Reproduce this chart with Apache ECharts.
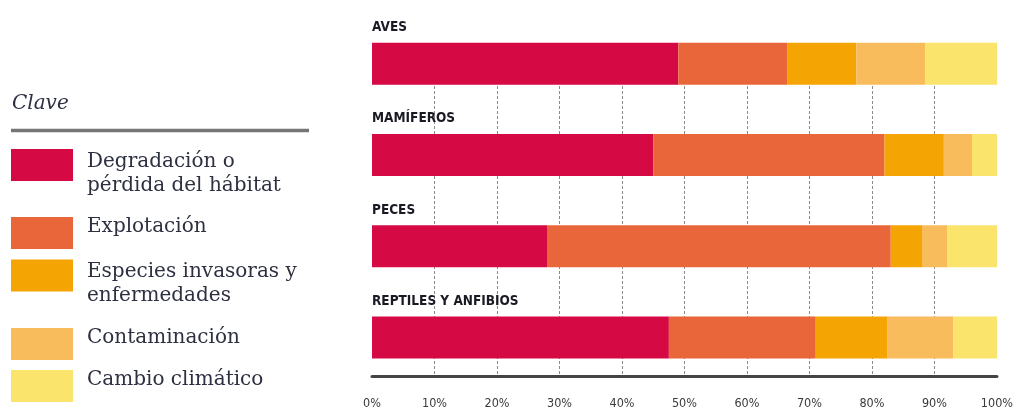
<!DOCTYPE html>
<html>
<head>
<meta charset="utf-8">
<script src="https://cdn.jsdelivr.net/npm/echarts@6/dist/echarts.min.js"></script>
<style>
  html, body { margin: 0; padding: 0; background: #fff; }
  #chart { width: 1016px; height: 410px; }
</style>
</head>
<body>
<div id="chart"></div>
<script>
// datos
const grupos = ['AVES', 'MAMÍFEROS', 'PECES', 'REPTILES Y ANFIBIOS'];
const amenazas = ['Degradación o pérdida del hábitat', 'Explotación', 'Especies invasoras y enfermedades', 'Contaminación', 'Cambio climático'];
const etiquetasClave = [['Degradación o', 'pérdida del hábitat'], ['Explotación'], ['Especies invasoras y', 'enfermedades'], ['Contaminación'], ['Cambio climático']];
const habitat = [49, 45, 28, 47.5];
const explotacion = [17.5, 37, 55, 23.5];
const invasoras = [11, 9.5, 5, 11.5];
const contaminacion = [11, 4.5, 4, 10.5];
const clima = [11.5, 4, 8, 7];

const valores = [habitat, explotacion, invasoras, contaminacion, clima];
const colores = ['#d50a45', '#e9663a', '#f5a503', '#f8bc5c', '#fae46b'];

const fuenteCond = "'DejaVu Sans Condensed', 'Liberation Sans Narrow', sans-serif";
const fuenteSerif = "'DejaVu Serif', 'Liberation Serif', serif";

// leyenda: una por amenaza para poder colocar cada bloque;
// una línea vacía arriba o abajo desplaza el texto respecto al cuadro
function textoClave(name) {
  const lineas = etiquetasClave[amenazas.indexOf(name)].map(l => '{t|' + l + '}');
  return lineas.length > 1 ? '{arr| }\n' + lineas.join('\n') : lineas[0] + '\n{aba| }';
}
const topsClave = [140, 217, 250.5, 328, 370];
const leyendas = amenazas.map((n, i) => ({
  data: [n],
  left: 11,
  top: topsClave[i],
  padding: 0,
  orient: 'vertical',
  icon: 'rect',
  itemWidth: 62,
  itemHeight: 32,
  selectedMode: false,
  formatter: textoClave,
  textStyle: {
    rich: {
      t: { fontFamily: fuenteSerif, fontSize: 20, lineHeight: 24, color: '#2d3040', padding: [0, 0, 0, 9] },
      arr: { fontSize: 2, lineHeight: 17 },
      aba: { fontSize: 2, lineHeight: 12 }
    }
  }
}));

const chart = echarts.init(document.getElementById('chart'));
chart.setOption({
  animation: false,
  backgroundColor: '#fff',
  title: {
    text: 'Clave',
    left: 12,
    top: 92,
    padding: 0,
    textStyle: {
      fontFamily: fuenteSerif,
      fontStyle: 'italic',
      fontWeight: 'normal',
      fontSize: 20,
      lineHeight: 24,
      color: '#2d3040'
    }
  },
  graphic: [{
    type: 'line',
    shape: { x1: 11, y1: 130.5, x2: 309, y2: 130.5 },
    style: { stroke: '#767676', lineWidth: 3.5 }
  }],
  legend: leyendas,
  grid: [
    { left: 372, width: 625, top: 18, height: 365 },
    { left: 372, width: 625, top: 86, height: 293 }
  ],
  xAxis: [
    { gridIndex: 0, type: 'value', min: 0, max: 100, show: false },
    {
      gridIndex: 1, type: 'value', min: 0, max: 100, interval: 10,
      axisLine: { show: true, onZero: false, lineStyle: { color: '#444', width: 3 } },
      axisTick: { show: false },
      splitLine: { show: true, showMinLine: false, showMaxLine: false, lineStyle: { type: [3, 2], color: '#8a8a8a', width: 1 } },
      axisLabel: { formatter: '{value}%', margin: 21, color: '#3a3a3a', fontFamily: fuenteCond, fontSize: 12.5 }
    }
  ],
  yAxis: [
    { gridIndex: 0, type: 'category', data: grupos, inverse: true, show: false },
    { gridIndex: 1, type: 'value', min: 0, max: 1, show: false }
  ],
  series: amenazas.map((n, i) => ({
    name: n,
    type: 'bar',
    stack: 'total',
    xAxisIndex: 0,
    yAxisIndex: 0,
    barWidth: 42,
    data: valores[i],
    itemStyle: { color: colores[i] },
    emphasis: { disabled: true },
    label: i === 0 ? {
      show: true,
      position: [0, -22],
      formatter: '{b}',
      fontFamily: fuenteCond,
      fontWeight: 'bold',
      fontSize: 13.5,
      color: '#1a1a24'
    } : { show: false }
  }))
});
</script>
</body>
</html>
